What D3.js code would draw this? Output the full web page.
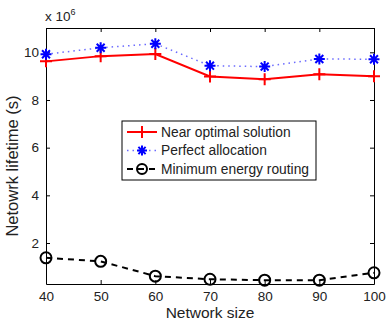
<!DOCTYPE html>
<html>
<head>
<meta charset="utf-8">
<script src="https://cdn.jsdelivr.net/npm/d3@7"></script>
<style>
  body { margin: 0; background: #fff; }
  svg { font-family: "Liberation Sans", Arial, sans-serif; }
</style>
</head>
<body>
<div id="chart"></div>
<script>
const networkSize = [40, 50, 60, 70, 80, 90, 100];
const nearOptimal = [9.62, 9.84, 9.93, 8.99, 8.87, 9.08, 9.0];
const perfectAlloc = [9.92, 10.19, 10.36, 9.44, 9.4, 9.72, 9.71];
const minEnergy = [1.38, 1.23, 0.61, 0.48, 0.44, 0.44, 0.75];
const yTicks = [2, 4, 6, 8, 10];
const seriesNames = ["Near optimal solution", "Perfect allocation", "Minimum energy routing"];

const W = 386, H = 325;
const margin = { top: 28, right: 12, bottom: 41, left: 46 };
const width = W - margin.left - margin.right,
  height = H - margin.top - margin.bottom;

const svg = d3.select("#chart").append("svg")
  .attr("width", W).attr("height", H);
const g = svg.append("g").attr("transform", `translate(${margin.left},${margin.top})`);

const x = d3.scaleLinear().domain([40, 100]).range([0, width]);
const y = d3.scaleLinear().domain([0.28, 11.02]).range([height, 0]);

// axes, ticks pointing inward on all four sides
const axStyle = sel => {
  sel.select(".domain").attr("stroke", "#000");
  sel.selectAll(".tick line").attr("stroke", "#000");
  sel.selectAll(".tick text").attr("font-size", 13.5).attr("fill", "#222");
};
g.append("g").attr("transform", `translate(0,${height})`)
  .call(d3.axisBottom(x).tickValues(networkSize).tickSize(-4).tickPadding(7).tickSizeOuter(0))
  .call(axStyle);
g.append("g")
  .call(d3.axisLeft(y).tickValues(yTicks).tickSize(-4).tickPadding(7).tickSizeOuter(0))
  .call(axStyle);
g.append("g")
  .call(d3.axisTop(x).tickValues(networkSize).tickSize(-4).tickFormat("").tickSizeOuter(0))
  .call(axStyle);
g.append("g").attr("transform", `translate(${width},0)`)
  .call(d3.axisRight(y).tickValues(yTicks).tickSize(-4).tickFormat("").tickSizeOuter(0))
  .call(axStyle);

// exponent label
const expo = svg.append("text").attr("x", margin.left - 1).attr("y", margin.top - 7)
  .attr("font-size", 13.5).attr("fill", "#222");
expo.append("tspan").text("x 10");
expo.append("tspan").attr("font-size", 9).attr("dy", -6).text("6");

// axis titles
svg.append("text").attr("x", margin.left + width / 2).attr("y", H - 7)
  .attr("text-anchor", "middle").attr("font-size", 15.5).attr("fill", "#222").text("Network size");
svg.append("text").attr("transform", `translate(18,${margin.top + height / 2 + 10}) rotate(-90)`)
  .attr("text-anchor", "middle").attr("font-size", 16.5).attr("fill", "#222").text("Netowrk lifetime (s)");

const line = d3.line().x((d, i) => x(networkSize[i])).y(d => y(d));

const plusMark = (sel, s) => sel.append("path")
  .attr("d", `M${-s},0H${s}M0,${-s}V${s}`);
const starMark = (sel, s) => {
  const r = s * 0.72;
  sel.append("path").attr("d", `M${-s},0H${s}M0,${-s}V${s}M${-r},${-r}L${r},${r}M${-r},${r}L${r},${-r}`);
};
const circleMark = (sel, s) => sel.append("circle").attr("r", s).attr("fill", "none");

// red: near optimal
g.append("path").datum(nearOptimal).attr("d", line)
  .attr("fill", "none").attr("stroke", "#ff0000").attr("stroke-width", 2);
g.append("g").selectAll("g").data(nearOptimal).join("g")
  .attr("transform", (d, i) => `translate(${x(networkSize[i])},${y(d)})`)
  .attr("stroke", "#ff0000").attr("stroke-width", 2)
  .each(function () { plusMark(d3.select(this), 6); });

// blue: perfect allocation
g.append("path").datum(perfectAlloc).attr("d", line)
  .attr("fill", "none").attr("stroke", "#6b6bff").attr("stroke-width", 1.5)
  .attr("stroke-dasharray", "1.5,4");
g.append("g").selectAll("g").data(perfectAlloc).join("g")
  .attr("transform", (d, i) => `translate(${x(networkSize[i])},${y(d)})`)
  .attr("stroke", "#0000ff").attr("stroke-width", 2)
  .each(function () { starMark(d3.select(this), 5.5); });

// black: minimum energy routing
g.append("path").datum(minEnergy).attr("d", line)
  .attr("fill", "none").attr("stroke", "#000").attr("stroke-width", 2)
  .attr("stroke-dasharray", "6,5");
g.append("g").selectAll("g").data(minEnergy).join("g")
  .attr("transform", (d, i) => `translate(${x(networkSize[i])},${y(d)})`)
  .attr("stroke", "#000").attr("stroke-width", 2)
  .each(function () { circleMark(d3.select(this), 5.5); });

// legend
const lg = svg.append("g").attr("transform", "translate(122,121)");
lg.append("rect").attr("width", 194).attr("height", 59)
  .attr("fill", "#fff").attr("stroke", "#000").attr("stroke-width", 1);
const legendRows = [
  { stroke: "#ff0000", dash: null, w: 2, mark: plusMark, mc: "#ff0000", ms: 6 },
  { stroke: "#6b6bff", dash: "1.5,4", w: 1.5, mark: starMark, mc: "#0000ff", ms: 5 },
  { stroke: "#000", dash: "6,5", w: 2, mark: circleMark, mc: "#000", ms: 5 }
];
legendRows.forEach((r, i) => {
  const yy = 11 + i * 18.5;
  lg.append("line").attr("x1", 5).attr("x2", 35).attr("y1", yy).attr("y2", yy)
    .attr("stroke", r.stroke).attr("stroke-width", r.w)
    .attr("stroke-dasharray", r.dash);
  const m = lg.append("g").attr("transform", `translate(20,${yy})`)
    .attr("stroke", r.mc).attr("stroke-width", 2);
  r.mark(m, r.ms);
  lg.append("text").attr("x", 39).attr("y", yy + 4.5).attr("font-size", 13.8)
    .attr("fill", "#222").text(seriesNames[i]);
});
</script>
</body>
</html>
